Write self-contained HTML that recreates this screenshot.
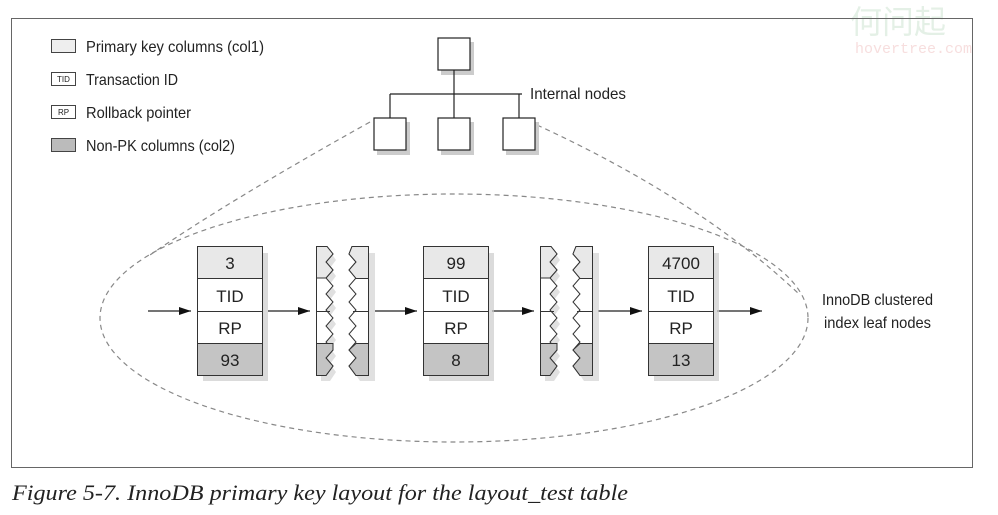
<!DOCTYPE html>
<html><head><meta charset="utf-8"><style>
html,body{margin:0;padding:0;background:#fff;}
svg{display:block;}
</style></head><body>
<svg width="998" height="515" viewBox="0 0 998 515" xmlns="http://www.w3.org/2000/svg" font-family="Liberation Sans, DejaVu Sans, sans-serif">
<defs>
<marker id="ah" markerWidth="12" markerHeight="8" refX="12" refY="4" orient="auto" markerUnits="userSpaceOnUse"><path d="M0,0 L12,4 L0,8 z" fill="#111"/></marker>
</defs>
<rect width="998" height="515" fill="#fff"/>
<text x="850" y="33" style="font-family:'Noto Sans CJK SC',sans-serif" font-size="32" fill="#e4f0e6">何问起</text>
<text x="855" y="53" style="font-family:'Liberation Mono',monospace" font-size="15" fill="#f7dede">hovertree.com</text>
<rect x="11.5" y="18.5" width="961" height="449" fill="none" stroke="#666" stroke-width="1"/>

<g stroke="#444" stroke-width="1">
<rect x="51.5" y="39.5" width="24" height="13" fill="#eee"/>
<rect x="51.5" y="72.5" width="24" height="13" fill="#fff"/>
<rect x="51.5" y="105.5" width="24" height="13" fill="#fff"/>
<rect x="51.5" y="138.5" width="24" height="13" fill="#bbb"/>
</g>
<g font-size="8" fill="#222" text-anchor="middle"><text x="63.5" y="82">TID</text><text x="63.5" y="115">RP</text></g>
<g font-size="16" fill="#222">
<text x="86" y="52" textLength="178" lengthAdjust="spacingAndGlyphs">Primary key columns (col1)</text>
<text x="86" y="85" textLength="92" lengthAdjust="spacingAndGlyphs">Transaction ID</text>
<text x="86" y="118" textLength="105" lengthAdjust="spacingAndGlyphs">Rollback pointer</text>
<text x="86" y="151" textLength="149" lengthAdjust="spacingAndGlyphs">Non-PK columns (col2)</text>
</g>

<g fill="none" stroke="#888" stroke-width="1.2" stroke-dasharray="5,4">
<ellipse cx="454" cy="318" rx="354" ry="124"/>
<path d="M370,122 Q230,200 150,255"/>
<path d="M537,125 Q700,200 800,295"/>
</g>

<g fill="#ccc"><rect x="441" y="42" width="33" height="33"/><rect x="377" y="122" width="33" height="33"/><rect x="441" y="122" width="33" height="33"/><rect x="506" y="122" width="33" height="33"/></g>
<g stroke="#222" stroke-width="1.2" fill="#fff">
<line x1="454" y1="70" x2="454" y2="118"/>
<line x1="390" y1="94" x2="522" y2="94"/>
<line x1="390" y1="94" x2="390" y2="118"/>
<line x1="519" y1="94" x2="519" y2="118"/>
<rect x="438" y="38" width="32" height="32"/>
<rect x="374" y="118" width="32" height="32"/>
<rect x="438" y="118" width="32" height="32"/>
<rect x="503" y="118" width="32" height="32"/>
</g>
<text x="530" y="99" font-size="16" fill="#222" textLength="96" lengthAdjust="spacingAndGlyphs">Internal nodes</text>

<g stroke="#222" stroke-width="1.2" marker-end="url(#ah)">
<line x1="148" y1="311" x2="191" y2="311"/>
<line x1="268" y1="311" x2="310" y2="311"/>
<line x1="375" y1="311" x2="417" y2="311"/>
<line x1="492" y1="311" x2="534" y2="311"/>
<line x1="598" y1="311" x2="642" y2="311"/>
<line x1="717" y1="311" x2="762" y2="311"/>
</g>

<g id="rec">
<rect x="203" y="253" width="65" height="128" fill="#ccc" opacity="0.7"/>
<rect x="197.5" y="246.5" width="65" height="32" fill="#e8e8e8" stroke="#333"/>
<rect x="197.5" y="278.5" width="65" height="33" fill="#fff" stroke="#333"/>
<rect x="197.5" y="311.5" width="65" height="32" fill="#fff" stroke="#333"/>
<rect x="197.5" y="343.5" width="65" height="32" fill="#c4c4c4" stroke="#333"/>
</g>
<use href="#rec" x="226"/>
<use href="#rec" x="451"/>
<g font-size="17" fill="#222" text-anchor="middle">
<text x="230" y="269">3</text><text x="230" y="302">TID</text><text x="230" y="334">RP</text><text x="230" y="366">93</text>
<text x="456" y="269">99</text><text x="456" y="302">TID</text><text x="456" y="334">RP</text><text x="456" y="366">8</text>
<text x="681" y="269">4700</text><text x="681" y="302">TID</text><text x="681" y="334">RP</text><text x="681" y="366">13</text>
</g>

<g id="torn">
<path d="M321,253 L331,253 L336,260 L330,268 L336,276 L330,284 L336,292 L330,300 L336,308 L330,316 L336,324 L330,332 L336,340 L330,348 L336,356 L330,364 L336,372 L330,381 L321,381 Z" fill="#ccc" opacity="0.6"/>
<path d="M316.5,246.5 L327,246.5 L333,254 L326,262 L333,270 L326,278 L333,286 L326,294 L333,302 L326,310 L333,318 L326,326 L333,334 L326,342 L333,350 L326,358 L333,366 L326,375.5 L316.5,375.5 Z" fill="#fff" stroke="#333"/>
<path d="M316.5,246.5 L327,246.5 L333,254 L326,262 L333,270 L326,278 L316.5,278 Z" fill="#e8e8e8" stroke="#333"/>
<path d="M316.5,343.5 L333,343.5 L333,350 L326,358 L333,366 L326,375.5 L316.5,375.5 Z" fill="#c4c4c4" stroke="#333"/>
<line x1="316.5" y1="311.5" x2="330" y2="311.5" stroke="#333"/>
<path d="M356,253 L375,253 L375,381 L360,381 L354,372 L361,364 L354,356 L361,348 L354,340 L361,332 L354,324 L361,316 L354,308 L361,300 L354,292 L361,284 L354,276 L361,268 L354,260 Z" fill="#ccc" opacity="0.6"/>
<path d="M352,246.5 L368.5,246.5 L368.5,375.5 L356,375.5 L349,366 L356,358 L349,350 L356,342 L349,334 L356,326 L349,318 L356,310 L349,302 L356,294 L349,286 L356,278 L349,270 L356,262 L349,254 Z" fill="#fff" stroke="#333"/>
<path d="M352,246.5 L368.5,246.5 L368.5,278.5 L356,278.5 L349,270 L356,262 L349,254 Z" fill="#e8e8e8" stroke="#333"/>
<path d="M356,343.5 L368.5,343.5 L368.5,375.5 L356,375.5 L349,366 L356,358 L349,350 Z" fill="#c4c4c4" stroke="#333"/>
<line x1="353" y1="311.5" x2="368.5" y2="311.5" stroke="#333"/>
</g>
<use href="#torn" x="224"/>

<g font-size="16" fill="#222">
<text x="822" y="305" textLength="111" lengthAdjust="spacingAndGlyphs">InnoDB clustered</text>
<text x="824" y="328" textLength="107" lengthAdjust="spacingAndGlyphs">index leaf nodes</text>
</g>

<text x="12" y="500" style="font-family:'Liberation Serif',serif;font-style:italic" font-size="22" fill="#222" textLength="616" lengthAdjust="spacingAndGlyphs">Figure 5-7. InnoDB primary key layout for the layout_test table</text>
</svg>
</body></html>
